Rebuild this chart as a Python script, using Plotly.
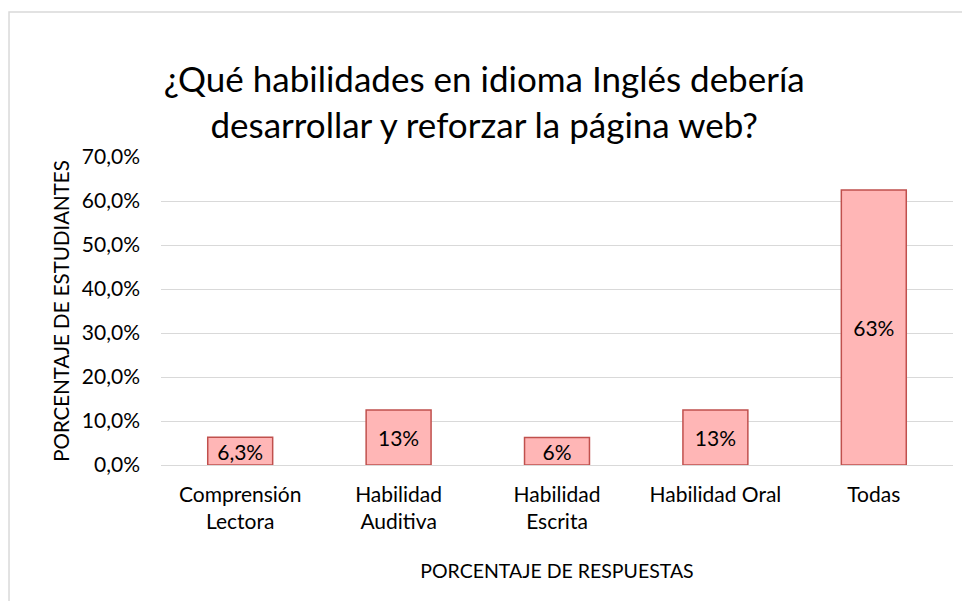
import plotly.graph_objects as go

categories = ["Comprensión<br>Lectora", "Habilidad<br>Auditiva", "Habilidad<br>Escrita", "Habilidad Oral", "Todas"]
values = [6.3, 12.5, 6.25, 12.5, 62.5]
labels = ["6,3%", "13%", "6%", "13%", "63%"]
y_ticks = [0, 10, 20, 30, 40, 50, 60, 70]
y_tick_labels = ["0,0%", "10,0%", "20,0%", "30,0%", "40,0%", "50,0%", "60,0%", "70,0%"]

FONT = "Lato"

fig = go.Figure()
fig.add_trace(go.Bar(
    x=categories, y=values, text=labels,
    textposition="inside", insidetextanchor="middle", constraintext="none",
    textfont=dict(family=FONT, size=21, color="#000000"),
    marker=dict(color="#FFB6B6", line=dict(color="#C0504D", width=1.5)),
    width=0.41, cliponaxis=False,
))

fig.update_layout(
    width=962, height=593,
    margin=dict(l=153, r=17, t=149, b=136),
    paper_bgcolor="white", plot_bgcolor="white",
    showlegend=False,
    title=dict(
        text="¿Qué habilidades en idioma Inglés debería<br>desarrollar y reforzar la página web?",
        x=0.495, xanchor="center", xref="container", yref="container", y=0.858, yanchor="top",
        font=dict(family=FONT, size=35, color="#000000"),
    ),
    font=dict(family=FONT, size=20, color="#000000"),
)
fig.update_xaxes(
    showgrid=False, showline=False, ticks="",
    tickfont=dict(family=FONT, size=21),
    ticklabelstandoff=15,
    title=dict(text="PORCENTAJE DE RESPUESTAS", font=dict(family=FONT, size=19.5), standoff=32),
)
fig.update_yaxes(
    range=[0, 70], tickvals=y_ticks, ticktext=y_tick_labels,
    showgrid=True, gridcolor="#D9D9D9", gridwidth=1.2,
    zeroline=True, zerolinecolor="#D9D9D9", zerolinewidth=1.2,
    showline=False, ticks="",
    tickfont=dict(family=FONT, size=21),
    ticklabelstandoff=20,
    title=dict(text="PORCENTAJE DE ESTUDIANTES", font=dict(family=FONT, size=20.5), standoff=6),
)
fig.add_shape(type="rect", xref="paper", yref="paper",
              x0=-0.1919, x1=1.2, y0=-1.0, y1=1.471,
              line=dict(color="#D9D9D9", width=1.5), fillcolor="rgba(0,0,0,0)", layer="below")

fig.write_html("out.html")
